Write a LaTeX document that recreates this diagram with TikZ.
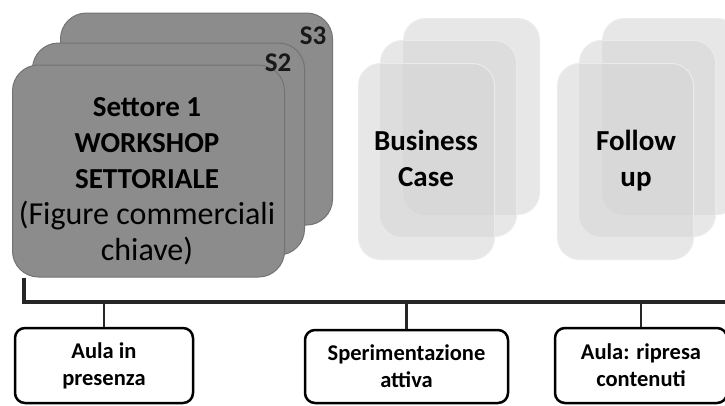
\documentclass[tikz,border=0pt]{standalone}
\usepackage{fontspec}
\setmainfont{Carlito}
\usetikzlibrary{calc}
\newcommand\cardreg{\mdseries\fontsize{32}{36}\selectfont}
\begin{document}
\begin{tikzpicture}[x=1pt,y=-1pt,
  darkcard/.style={draw=black!55, line width=1pt, fill=black!45, rounded corners=26pt,
    minimum width=272pt, minimum height=212pt, inner sep=0pt},
  lightcard/.style={draw=black!8, line width=1pt, fill=black!17, fill opacity=0.55,
    rounded corners=22pt, minimum width=136pt, minimum height=196pt, inner sep=0pt},
  cardtext/.style={font=\bfseries\fontsize{29}{36}\selectfont, align=center, text=black},
  tag/.style={font=\bfseries\fontsize{27}{27}\selectfont, text=black!90},
  boxstep/.style={draw=black, line width=2.5pt, fill=white, rounded corners=10pt,
    inner sep=0pt, font=\bfseries\fontsize{22.5}{27}\selectfont, align=center},
  bar/.style={line width=3.5pt, draw=black!85}
]
\useasboundingbox (0,0) rectangle (725,405);

% sector workshop stack
\node[darkcard] (s3) at (196.5,119) {};
\node[darkcard] (s2) at (168.5,149) {};
\node[darkcard] (s1) at (148.5,171) {};
\node[tag] (s3t) at (313,36) {S3};
\node[tag] (s2t) at (278,63) {S2};
\node[cardtext] (s1t) at (147,181)
  {Settore 1\\WORKSHOP\\SETTORIALE\\{\cardreg (Figure commerciali}\\{\cardreg chiave)}};

% business case stack
\node[lightcard] (bc3) at (471.5,116.5) {};
\node[lightcard] (bc2) at (448.5,138.5) {};
\node[lightcard] (bc1) at (426.5,161.5) {};
\node[cardtext] (bct) at (426,158) {Business\\Case};

% follow up stack
\node[lightcard] (fu3) at (670.5,116.5) {};
\node[lightcard] (fu2) at (647.5,138.5) {};
\node[lightcard] (fu1) at (625.5,161.5) {};
\node[cardtext] (fut) at (636,161) {Follow\\up};

% timeline bar
\coordinate (barstart) at ($(s1.south west)+(12,0)$);
\coordinate (barend) at (725,302);
\draw[bar] (barstart) |- (barend);

% activity boxes
\node[boxstep, minimum width=178pt, minimum height=75pt] (b1) at (104,365.5) {Aula in\\presenza};
\node[boxstep, minimum width=203pt, minimum height=73pt] (b2) at (406.5,366.5) {Sperimentazione\\attiva};
\node[boxstep, minimum width=172pt, minimum height=75pt] (b3) at (641,365.5) {Aula: ripresa\\contenuti};

\foreach \b in {b1,b2,b3}
  \draw[bar, line width=2.5pt] (\b.north) -- (\b.north |- barend);
\end{tikzpicture}
\end{document}
